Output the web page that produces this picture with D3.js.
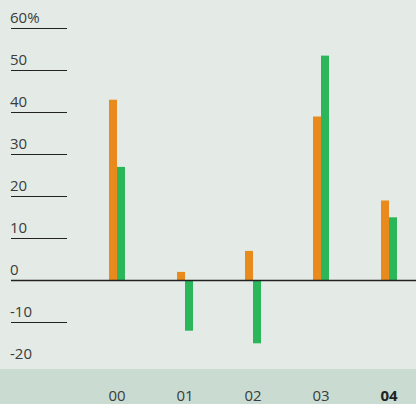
<!DOCTYPE html>
<html>
<head>
<meta charset="utf-8">
<script src="https://cdn.jsdelivr.net/npm/d3@7"></script>
<style>
  body { margin: 0; background: #e4ebe6; }
  svg { display: block; font-family: "Open Sans", sans-serif; }
</style>
</head>
<body>
<div id="chart"></div>
<script>
const width = 416;
const height = 404;
const years = ["00", "01", "02", "03", "04"];
const series = ["orange", "green"];
const orangeValues = [43, 2, 7, 39, 19];
const greenValues = [27, -12, -15, 53.5, 15];
const yTicks = [60, 50, 40, 30, 20, 10, 0, -10, -20];
const gridTicks = [60, 50, 40, 30, 20, 10, -10];
const colors = { orange: "#e98a1d", green: "#2bb659" };

const svg = d3.select("#chart")
  .append("svg")
  .attr("width", width)
  .attr("height", height);

// background and bottom band
svg.append("rect")
  .attr("width", width).attr("height", height)
  .attr("fill", "#e4ebe6");
svg.append("rect")
  .attr("y", 369).attr("width", width).attr("height", height - 369)
  .attr("fill", "#cadcd1");

let yScale = d3.scaleLinear()
  .domain([0, 60])
  .range([280.3, 28.3]);
let xScale = d3.scalePoint()
  .domain(years)
  .range([117, 389]);
let xSub = d3.scaleBand()
  .domain(series)
  .range([-8, 8]);

// short grid lines on the left
svg.selectAll("line.grid")
  .data(gridTicks)
  .enter()
  .append("line")
  .attr("class", "grid")
  .attr("x1", 11).attr("x2", 67)
  .attr("y1", d => Math.round(yScale(d)) + 0.5)
  .attr("y2", d => Math.round(yScale(d)) + 0.5)
  .attr("stroke", "#222")
  .attr("stroke-width", 1);

svg.selectAll("text.ylabel")
  .data(yTicks)
  .enter()
  .append("text")
  .attr("class", "ylabel")
  .attr("x", 10)
  .attr("y", d => yScale(d) - 5.5)
  .style("font-size", "15px")
  .attr("fill", "#3b3b3b")
  .text((d, i) => i === 0 ? d + "%" : d);

// bars
const rows = [];
years.forEach((y, i) => {
  rows.push({ year: y, key: "orange", value: orangeValues[i] });
  rows.push({ year: y, key: "green", value: greenValues[i] });
});

svg.selectAll("rect.bar")
  .data(rows)
  .enter()
  .append("rect")
  .attr("class", "bar")
  .attr("x", d => xScale(d.year) + xSub(d.key))
  .attr("width", xSub.bandwidth())
  .attr("y", d => yScale(Math.max(0, d.value)))
  .attr("height", d => Math.abs(yScale(d.value) - yScale(0)))
  .attr("fill", d => colors[d.key]);

// zero line across the whole width
svg.append("line")
  .attr("x1", 11).attr("x2", width)
  .attr("y1", Math.round(yScale(0)) + 0.5)
  .attr("y2", Math.round(yScale(0)) + 0.5)
  .attr("stroke", "#222")
  .attr("stroke-width", 1.3);

svg.selectAll("text.xlabel")
  .data(years)
  .enter()
  .append("text")
  .attr("class", "xlabel")
  .attr("x", d => xScale(d))
  .attr("y", 401)
  .attr("text-anchor", "middle")
  .style("font-size", "15px")
  .style("font-weight", (d, i) => i === years.length - 1 ? "bold" : "normal")
  .attr("fill", (d, i) => i === years.length - 1 ? "#222" : "#3b3b3b")
  .text(d => d);
</script>
</body>
</html>
